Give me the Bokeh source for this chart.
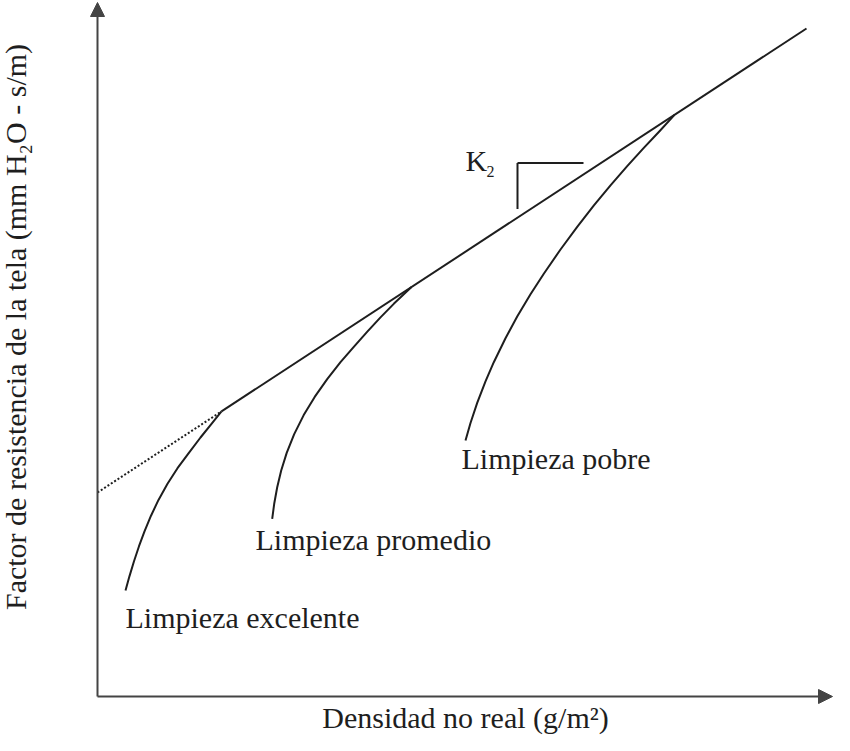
from bokeh.plotting import figure
from bokeh.models import Range1d, Arrow, NormalHead
from bokeh.core.properties import value
from bokeh.embed import file_html
from bokeh.resources import INLINE

# ---- data (schematic, arbitrary units) ----
# dotted extrapolation and solid trend line (slope K2)
dotted_x = [0.0, 12.4]
dotted_y = [20.4, 28.51]
trend_x = [12.4, 70.9]
trend_y = [28.51, 66.8]

exc_x = [2.8, 3.2, 3.65, 4.15, 4.7, 5.35, 6.1, 7.0, 8.0, 9.1, 10.3, 11.4, 12.4]
exc_y = [10.6, 12.04, 13.53, 15.03, 16.52, 18.08, 19.66, 21.28, 22.83, 24.32, 25.9, 27.27, 28.51]

prom_x = [17.47, 17.67, 17.97, 18.37, 18.92, 19.67, 20.62, 21.72, 22.97, 24.3, 25.63, 26.96, 28.3, 29.65, 31.4]
prom_y = [17.77, 19.27, 20.92, 22.6, 24.36, 26.24, 28.14, 29.96, 31.74, 33.43, 34.97, 36.46, 37.91, 39.29, 40.95]

pob_x = [36.8, 37.3, 37.97, 38.8, 39.63, 40.8, 41.97, 43.3, 44.63, 46.3, 47.97, 49.64, 51.3, 52.97, 54.63, 56.2, 57.7]
pob_y = [25.6, 27.35, 29.36, 31.52, 33.43, 35.83, 37.99, 40.22, 42.28, 44.70, 46.97, 49.11, 51.12, 53.04, 54.87, 56.53, 58.16]

# slope marker (K2)
k_x = [42.0, 48.6]
k_level = 53.35
k_drop = 48.75

labels = ["Limpieza excelente", "Limpieza promedio", "Limpieza pobre"]
label_x = [2.8, 15.8, 36.4]
label_y = [7.86, 15.66, 23.76]

x_title = "Densidad no real (g/m²)"
y_title = "Factor de resistencia de la tela (mm H₂O - s/m)"

W, H = 834, 735
p = figure(width=W, height=H, output_backend="svg", toolbar_location=None,
           x_range=Range1d(-9.7, 73.7), y_range=Range1d(-3.9, 69.6),
           x_axis_location=None, y_axis_location=None, min_border=0)
p.outline_line_color = None
p.grid.visible = False
p.background_fill_color = "white"
p.border_fill_color = "white"

ink = "#1e1e1e"
axis_col = "#444444"

# axes with arrowheads
p.add_layout(Arrow(end=NormalHead(size=14, fill_color=axis_col, line_color=axis_col),
                   x_start=0, y_start=0, x_end=0, y_end=69.4,
                   line_color=axis_col, line_width=2))
p.add_layout(Arrow(end=NormalHead(size=14, fill_color=axis_col, line_color=axis_col),
                   x_start=0, y_start=0, x_end=73.5, y_end=0,
                   line_color=axis_col, line_width=2))

p.line(dotted_x, dotted_y, line_color=ink, line_width=2, line_dash="2 2")
p.line(trend_x, trend_y, line_color=ink, line_width=2)
for xs, ys in [(exc_x, exc_y), (prom_x, prom_y), (pob_x, pob_y)]:
    p.line(xs, ys, line_color=ink, line_width=2, line_join="round")

# K2 slope marker
p.line(k_x, [k_level, k_level], line_color=ink, line_width=2)
p.line([k_x[0], k_x[0]], [k_level, k_drop], line_color=ink, line_width=2)

font = value("Liberation Serif")
p.text(x=label_x, y=label_y, text=labels, text_font=font, text_font_size="30px",
       text_color=ink, text_align="left", text_baseline="alphabetic")
p.text(x=[36.8], y=[53.56], text=["K"], text_font=font, text_font_size="30px",
       text_color=ink, text_baseline="alphabetic")
p.text(x=[38.9], y=[52.5], text=["2"], text_font=font, text_font_size="16px",
       text_color=ink, text_baseline="alphabetic")

p.text(x=[36.8], y=[-2.14], text=[x_title], text_font=font, text_font_size="30px",
       text_color=ink, text_align="center", text_baseline="alphabetic")
p.text(x=[-8.16], y=[36.95], text=[y_title], text_font=font, text_font_size="30px",
       text_color=ink, text_align="center", text_baseline="alphabetic", angle=1.5708)

open("out.html", "w").write(file_html(p, INLINE))
